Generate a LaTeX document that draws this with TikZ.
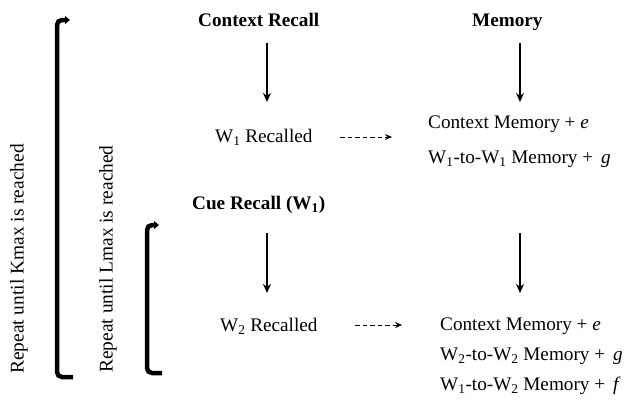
\documentclass[tikz,border=0pt]{standalone}
\usepackage{fontspec}
\setmainfont{Liberation Serif}
\usetikzlibrary{arrows.meta}
\begin{document}
\begin{tikzpicture}[x=1pt,y=-1pt,
  txt/.style={inner sep=0pt,anchor=base west,font=\fontsize{19.2}{23}\selectfont},
  head/.style={txt,font=\fontsize{19.2}{23}\selectfont\bfseries},
  rot/.style={inner sep=0pt,rotate=90,font=\fontsize{19.4}{23}\selectfont},
  down/.style={-{Stealth[length=9pt,width=8pt]},line width=1.6pt},
  dasharrow/.style={-{Stealth[length=7pt,width=6pt]},line width=1pt,dash pattern=on 4.5pt off 3pt},
  brack/.style={line width=4.5pt,rounded corners=5pt},
  brackarrow/.style={brack,-{Triangle[length=5pt,width=8pt]}}]
\useasboundingbox (0,0) rectangle (629,405);
% headers
\node[head] (cr) at (198,26) {Context Recall};
\node[head] (mem) at (472,26) {Memory};
\node[head] (cue) at (192,209) {Cue Recall (W\textsubscript{1})};
% arrows
\coordinate (a1s) at (267,43); \coordinate (a1e) at (267,102);
\coordinate (a2s) at (520,43); \coordinate (a2e) at (520,102);
\coordinate (a3s) at (267,233); \coordinate (a3e) at (267,293);
\coordinate (a4s) at (520,233); \coordinate (a4e) at (520,293);
\draw[down] (a1s) -- (a1e);
\draw[down] (a2s) -- (a2e);
\draw[down] (a3s) -- (a3e);
\draw[down] (a4s) -- (a4e);
% first block
\node[txt] (w1) at (215,142) {W\textsubscript{1} Recalled};
\node[txt] (cm1) at (428,128) {Context Memory + \textit{e}};
\node[txt] (w11) at (428,163) {W\textsubscript{1}-to-W\textsubscript{1} Memory + \,\textit{g}};
\coordinate (d1s) at (340,137); \coordinate (d1e) at (392,137);
\draw[dasharrow] (d1s) -- (d1e);
% second block
\node[txt] (w2) at (220,331) {W\textsubscript{2} Recalled};
\node[txt] (cm2) at (440,330) {Context Memory + \textit{e}};
\node[txt] (w22) at (440,360) {W\textsubscript{2}-to-W\textsubscript{2} Memory + \,\textit{g}};
\node[txt] (w12) at (440,390) {W\textsubscript{1}-to-W\textsubscript{2} Memory + \,\textit{f}};
\coordinate (d2s) at (355,325); \coordinate (d2e) at (402,325);
\draw[dasharrow] (d2s) -- (d2e);
% brackets
\node[rot] (kmax) at (19,259) {Repeat until Kmax is reached};
\node[rot] (lmax) at (108,259) {Repeat until Lmax is reached};
\coordinate (ob1) at (73,377); \coordinate (ob2) at (57,377);
\coordinate (ob3) at (57,20); \coordinate (ob4) at (70,20);
\draw[brackarrow] (ob1) -- (ob2) -- (ob3) -- (ob4);
\coordinate (ib1) at (162,373); \coordinate (ib2) at (147,373);
\coordinate (ib3) at (147,225); \coordinate (ib4) at (159,225);
\draw[brackarrow] (ib1) -- (ib2) -- (ib3) -- (ib4);
\end{tikzpicture}
\end{document}
